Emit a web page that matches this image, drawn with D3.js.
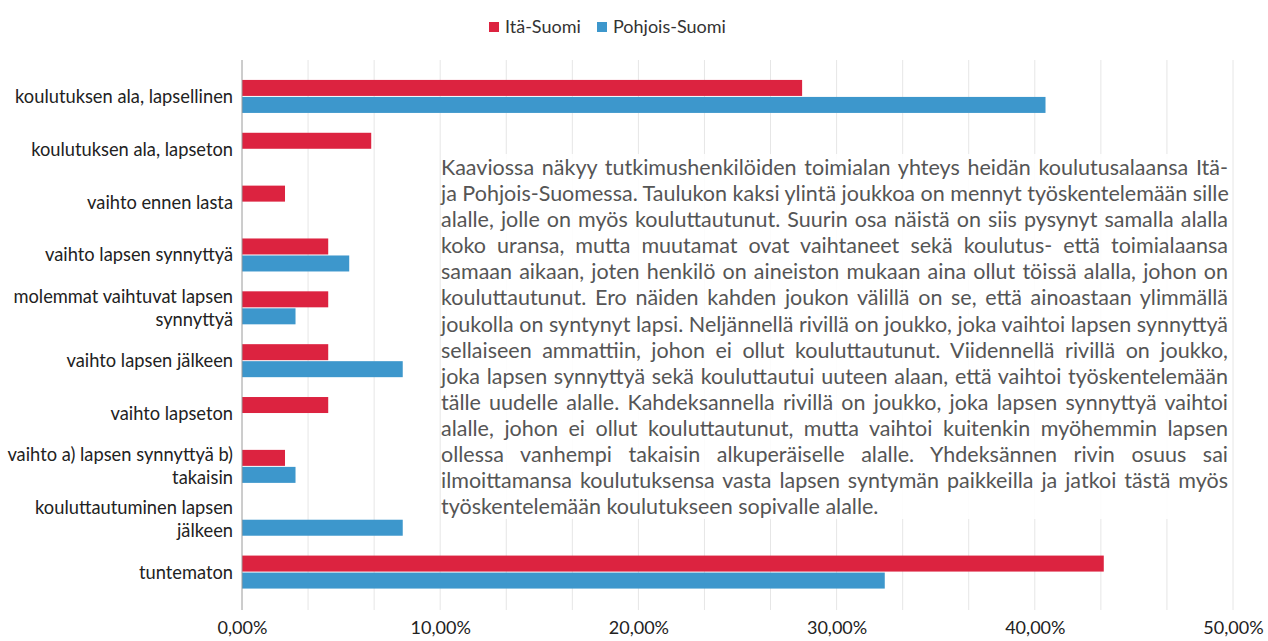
<!DOCTYPE html>
<html>
<head>
<meta charset="utf-8">
<script src="https://cdn.jsdelivr.net/npm/d3@7"></script>
<style>
  html, body { margin: 0; padding: 0; background: #fff; }
  #wrap { position: relative; width: 1268px; height: 641px; overflow: hidden; }
  svg { position: absolute; left: 0; top: 0; }
  #note { position: absolute; left: 441px; top: 154px; width: 787px;
          font-family: Lato, "Open Sans", sans-serif; font-size: 21.5px; line-height: 26.1px;
          color: #555; background: rgba(255,255,255,0.88); }
  #note div { text-align: justify; text-align-last: justify; white-space: nowrap; }
  #note div.last { text-align-last: left; }
</style>
</head>
<body>
<div id="wrap">
<svg id="chart" width="1268" height="641"></svg>
<div id="note"></div>
</div>
<script>
const categories = [
  "koulutuksen ala, lapsellinen",
  "koulutuksen ala, lapseton",
  "vaihto ennen lasta",
  "vaihto lapsen synnyttyä",
  "molemmat vaihtuvat lapsen synnyttyä",
  "vaihto lapsen jälkeen",
  "vaihto lapseton",
  "vaihto a) lapsen synnyttyä b) takaisin",
  "kouluttautuminen lapsen jälkeen",
  "tuntematon"
];
const categoryLines = [
  ["koulutuksen ala, lapsellinen"],
  ["koulutuksen ala, lapseton"],
  ["vaihto ennen lasta"],
  ["vaihto lapsen synnyttyä"],
  ["molemmat vaihtuvat lapsen", "synnyttyä"],
  ["vaihto lapsen jälkeen"],
  ["vaihto lapseton"],
  ["vaihto a) lapsen synnyttyä b)", "takaisin"],
  ["kouluttautuminen lapsen", "jälkeen"],
  ["tuntematon"]
];
const seriesNames = ["Itä-Suomi", "Pohjois-Suomi"];
const itaSuomi     = [28.26, 6.52, 2.17, 4.35, 4.35, 4.35, 4.35, 2.17, 0, 43.48];
const pohjoisSuomi = [40.54, 0, 0, 5.41, 2.70, 8.11, 0, 2.70, 8.11, 32.43];
const xTicks = [0, 10, 20, 30, 40, 50];
const xTickLabels = ["0,00%", "10,00%", "20,00%", "30,00%", "40,00%", "50,00%"];
const gridValues = [0, 10/3, 20/3, 10, 40/3, 50/3, 20, 70/3, 80/3, 30, 100/3, 110/3, 40, 130/3, 140/3, 50];
const noteLines = [
  "Kaaviossa näkyy tutkimushenkilöiden toimialan yhteys heidän koulutusalaansa Itä-",
  "ja Pohjois-Suomessa. Taulukon kaksi ylintä joukkoa on mennyt työskentelemään sille",
  "alalle, jolle on myös kouluttautunut. Suurin osa näistä on siis pysynyt samalla alalla",
  "koko uransa, mutta muutamat ovat vaihtaneet sekä koulutus- että toimialaansa",
  "samaan aikaan, joten henkilö on aineiston mukaan aina ollut töissä alalla, johon on",
  "kouluttautunut. Ero näiden kahden joukon välillä on se, että ainoastaan ylimmällä",
  "joukolla on syntynyt lapsi. Neljännellä rivillä on joukko, joka vaihtoi lapsen synnyttyä",
  "sellaiseen ammattiin, johon ei ollut kouluttautunut. Viidennellä rivillä on joukko,",
  "joka lapsen synnyttyä sekä kouluttautui uuteen alaan, että vaihtoi työskentelemään",
  "tälle uudelle alalle. Kahdeksannella rivillä on joukko, joka lapsen synnyttyä vaihtoi",
  "alalle, johon ei ollut kouluttautunut, mutta vaihtoi kuitenkin myöhemmin lapsen",
  "ollessa vanhempi takaisin alkuperäiselle alalle. Yhdeksännen rivin osuus sai",
  "ilmoittamansa koulutuksensa vasta lapsen syntymän paikkeilla ja jatkoi tästä myös",
  "työskentelemään koulutukseen sopivalle alalle."
];

const colors = { "Itä-Suomi": "#dc2340", "Pohjois-Suomi": "#3d97cc" };
const font = "Lato, 'Open Sans', sans-serif";

const data = categories.map((c, i) => ({
  cat: c, lines: categoryLines[i],
  vals: [{ s: seriesNames[0], v: itaSuomi[i] }, { s: seriesNames[1], v: pohjoisSuomi[i] }]
}));

const svg = d3.select("#chart");
const left = 242, right = 1233, plotTop = 60, plotBottom = 610;
const x = d3.scaleLinear().domain([0, 50]).range([left, right]);
const y0 = d3.scaleBand().domain(categories).range([70, 598.5]).padding(0);
const groupH = 34;
const y1 = d3.scaleBand().domain(seriesNames)
  .range([(y0.bandwidth() - groupH) / 2, (y0.bandwidth() + groupH) / 2]).padding(0);

// gridlines
svg.append("g").selectAll("line").data(gridValues.slice(1)).join("line")
  .attr("x1", d => x(d)).attr("x2", d => x(d))
  .attr("y1", plotTop).attr("y2", plotBottom)
  .attr("stroke", "#e6e6e6").attr("stroke-width", 1);

// bars
const g = svg.append("g").selectAll("g").data(data).join("g")
  .attr("transform", d => `translate(0,${y0(d.cat)})`);
g.selectAll("rect").data(d => d.vals.filter(v => v.v > 0)).join("rect")
  .attr("x", x(0))
  .attr("y", d => y1(d.s) + 0.5)
  .attr("width", d => x(d.v) - x(0))
  .attr("height", y1.bandwidth() - 1)
  .attr("fill", d => colors[d.s]);

// zero axis line
svg.append("line").attr("x1", x(0)).attr("x2", x(0))
  .attr("y1", plotTop).attr("y2", plotBottom)
  .attr("stroke", "#9a9a9a").attr("stroke-width", 1);

// category labels
const lab = svg.append("g").selectAll("text").data(data).join("text")
  .attr("text-anchor", "end")
  .attr("font-family", font).attr("font-size", 18.3).attr("fill", "#222")
  .attr("x", 233)
  .attr("y", d => y0(d.cat) + y0.bandwidth() / 2 - (d.lines.length - 1) * 11.5 + 6.5);
lab.selectAll("tspan").data(d => d.lines).join("tspan")
  .attr("x", 233).attr("dy", (d, i) => i === 0 ? 0 : 23).text(d => d);

// x axis labels
const xAxis = d3.axisBottom(x).tickValues(xTicks)
  .tickFormat((d, i) => xTickLabels[i]).tickSize(0).tickPadding(0);
const ax = svg.append("g").attr("transform", "translate(0,621)").call(xAxis);
ax.select(".domain").remove();
ax.selectAll("text").attr("font-family", font).attr("font-size", 18).attr("fill", "#222")
  .attr("dy", "0.71em");

// legend
const legendItems = [
  { s: seriesNames[0], x: 489 },
  { s: seriesNames[1], x: 597 }
];
const lg = svg.append("g").selectAll("g").data(legendItems).join("g")
  .attr("transform", d => `translate(${d.x},22)`);
lg.append("rect").attr("width", 10).attr("height", 10).attr("y", 0).attr("fill", d => colors[d.s]);
lg.append("text").attr("x", 16).attr("y", 11).attr("font-family", font).attr("font-size", 18)
  .attr("fill", "#333").text(d => d.s);

// note text
d3.select("#note").selectAll("div").data(noteLines).join("div")
  .attr("class", (d, i) => i === noteLines.length - 1 ? "last" : null)
  .text(d => d);
</script>
</body>
</html>
